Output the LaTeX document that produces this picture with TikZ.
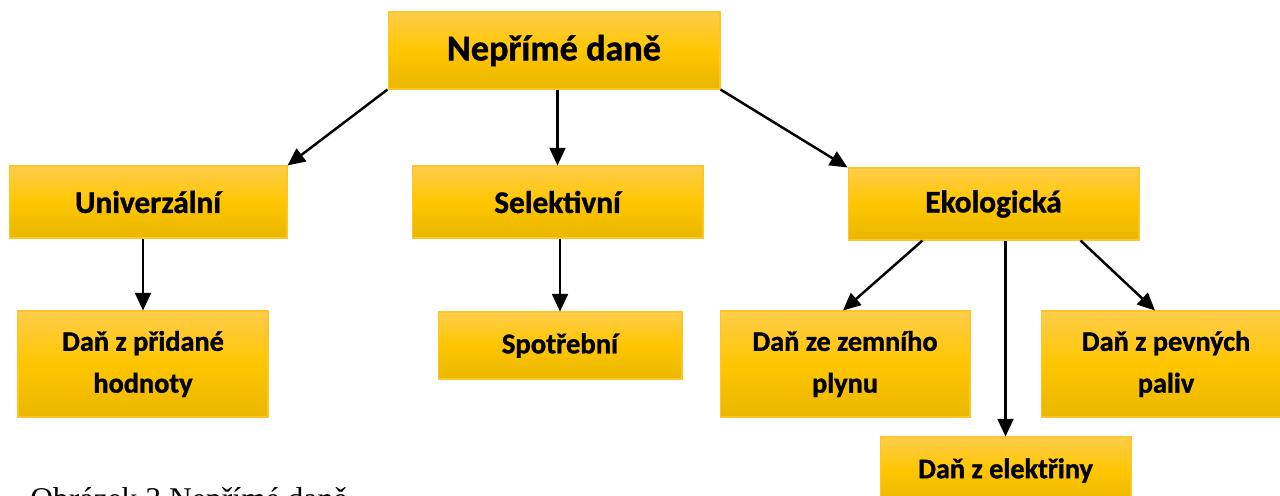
\documentclass[tikz,border=0pt]{standalone}
\usepackage{fontspec}
\setmainfont{Carlito}[BoldFeatures={FakeBold=1.2}]
\newfontfamily\capfont{Liberation Serif}
\usetikzlibrary{arrows.meta,calc}
\definecolor{gtop}{RGB}{255,205,75}
\definecolor{gmid}{RGB}{255,198,0}
\definecolor{gbot}{RGB}{233,183,0}
\definecolor{gline}{RGB}{255,196,40}
\tikzset{
  box/.style={rectangle, draw=gline, line width=0.6pt, inner sep=0pt,
    top color=gtop, bottom color=gbot, middle color=gmid, align=center,
    font=\bfseries},
  arr/.style={-{Triangle[length=10pt,width=9pt]}, line width=1.4pt, black},
  fA/.style={font=\bfseries\fontsize{20.6}{24}\selectfont},
  fB/.style={font=\bfseries\fontsize{17.8}{22}\selectfont},
  fC/.style={font=\bfseries\fontsize{16.3}{20}\selectfont},
  fD/.style={font=\bfseries\fontsize{16.1}{23.8}\selectfont},
}
\begin{document}
\begin{tikzpicture}[x=0.02cm,y=-0.02cm]
\useasboundingbox (0,0) rectangle (1280,495);
\node[box,fA,minimum width=6.64cm,minimum height=1.54cm] (top) at (554,50.5) {Nepřímé daně};
\node[box,fB,minimum width=5.56cm,minimum height=1.44cm] (uni) at (148,202) {Univerzální};
\node[box,fB,minimum width=5.82cm,minimum height=1.44cm] (sel) at (557.5,202) {Selektivní};
\node[box,fB,minimum width=5.82cm,minimum height=1.44cm] (eko) at (993.5,204) {Ekologická};
\node[box,fD,minimum width=5.0cm,minimum height=2.12cm] (dph) at (143,364) {Daň z přidané\\hodnoty};
\node[box,fC,minimum width=4.88cm,minimum height=1.34cm] (spot) at (560,345.5) {Spotřební};
\node[box,fD,minimum width=5.0cm,minimum height=2.12cm] (zem) at (845,364) {Daň ze zemního\\plynu};
\node[box,fD,minimum width=5.0cm,minimum height=2.12cm] (pev) at (1166,364) {Daň z pevných\\paliv};
\node[box,fD,minimum width=5.02cm,minimum height=1.34cm] (elek) at (1005.5,470.5) {Daň z elektřiny};
\node[anchor=base west,inner sep=0pt,font=\capfont\fontsize{18}{22}\selectfont] (cap) at (30,509) {Obrázek 3 Nepřímé daně};
\draw[arr] (top.south west) -- (uni.north east);
\draw[arr] (sel.north |- top.south) -- (sel.north);
\draw[arr] (top.south east) -- (eko.north west);
\draw[arr] (dph.north |- uni.south) -- (dph.north);
\draw[arr] (spot.north |- sel.south) -- (spot.north);
\draw[arr] ($(eko.south)+(-71,0)$) -- ($(zem.north)+(-2,0)$);
\draw[arr] (elek.north |- eko.south) -- (elek.north);
\draw[arr] ($(eko.south)+(87,0)$) -- ($(pev.north)+(-11,0)$);
\end{tikzpicture}
\end{document}
